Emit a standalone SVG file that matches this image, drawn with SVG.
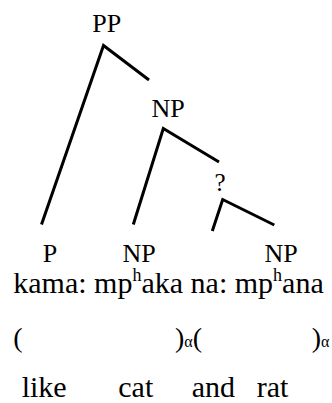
<svg xmlns="http://www.w3.org/2000/svg" width="332" height="403" viewBox="0 0 332 403">
<style>
.lbl{font-family:"Liberation Serif","Times New Roman",serif;font-size:26px;fill:#000;text-anchor:middle}
.txt{font-family:"Liberation Serif","Times New Roman",serif;font-size:30px;fill:#000}
.par{font-family:"Liberation Serif","Times New Roman",serif;font-size:28px;fill:#000}
.sup{font-size:18px}
.sub{font-size:16px}
.edge{fill:none;stroke:#000;stroke-width:3;stroke-linejoin:miter}
</style>
<rect width="332" height="403" fill="#fff"/>
<g id="connectors">
<polyline class="edge" points="41.5,224.5 103.5,45.5 149,80"/>
<polyline class="edge" points="133.3,224.5 163.3,128.5 219,162"/>
<polyline class="edge" points="212.3,231 222.7,199.5 274.3,225"/>
</g>
<g id="node-PP"><text class="lbl" x="106.7" y="32">PP</text></g>
<g id="node-NP1"><text class="lbl" x="168" y="117">NP</text></g>
<g id="node-Q"><text class="lbl" x="220" y="190.5" style="font-size:25px">?</text></g>
<g id="node-P"><text class="lbl" x="50" y="262">P</text></g>
<g id="node-NP2"><text class="lbl" x="139" y="262">NP</text></g>
<g id="node-NP3"><text class="lbl" x="281" y="262">NP</text></g>
<g id="words">
<text class="txt" x="13.3" y="293">kama: mp<tspan class="sup" dy="-12">h</tspan><tspan dy="12">aka na: mp</tspan><tspan class="sup" dy="-12">h</tspan><tspan dy="12">ana</tspan></text>
<text class="par" y="347"><tspan x="13.3">(</tspan><tspan x="175">)</tspan><tspan class="sub">α</tspan><tspan>(</tspan><tspan x="311.7">)</tspan><tspan class="sub">α</tspan></text>
<text class="txt" y="396.7"><tspan x="21.7">like</tspan><tspan x="118.3">cat</tspan><tspan x="191.7">and</tspan><tspan x="256.7">rat</tspan></text>
</g>
</svg>
